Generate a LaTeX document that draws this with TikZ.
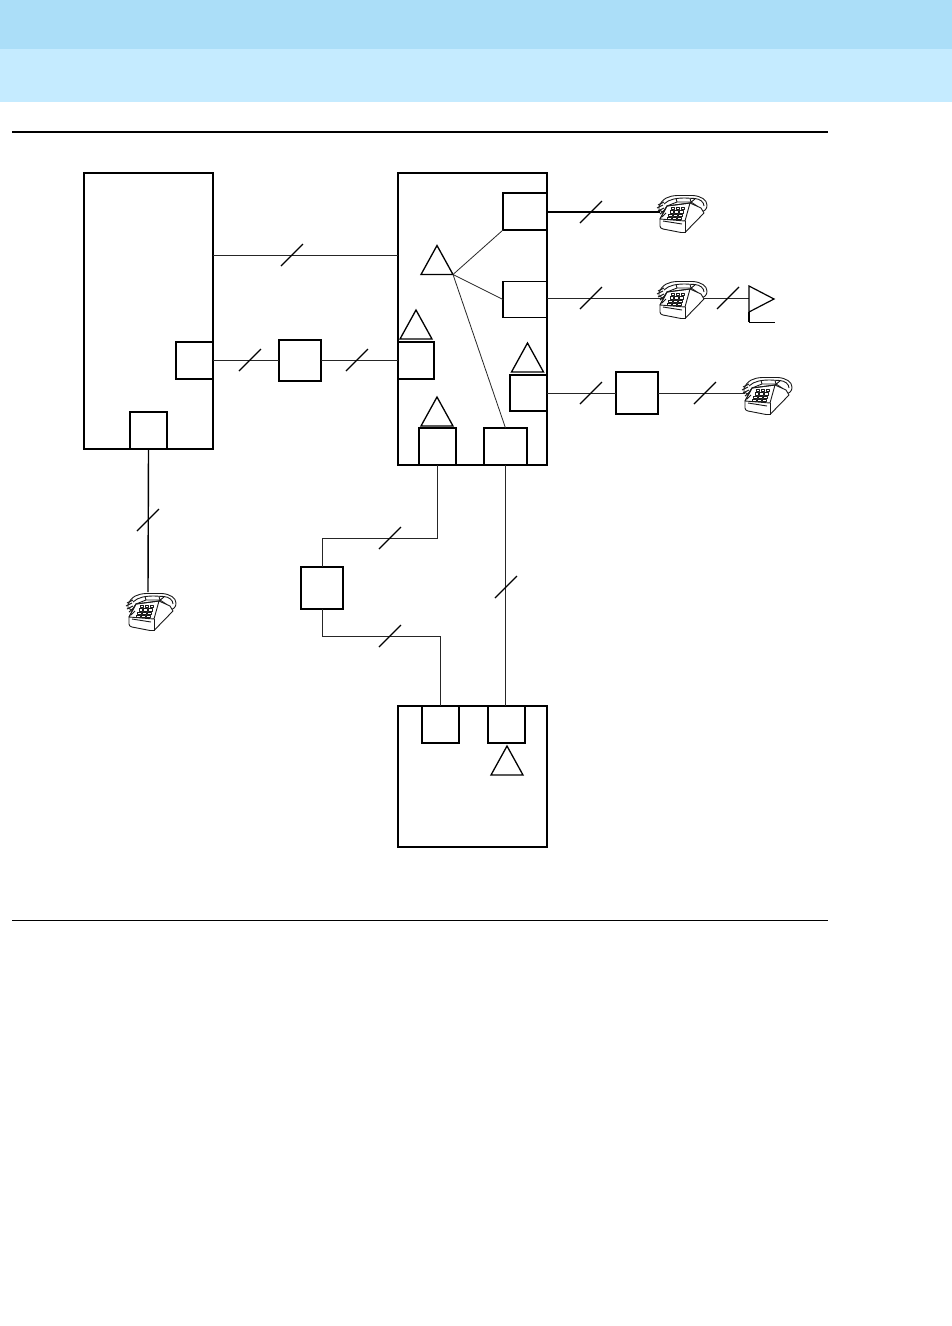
\documentclass[tikz,border=0pt]{standalone}
\usetikzlibrary{shapes.geometric}
\definecolor{bandtop}{RGB}{171,222,248}
\definecolor{bandlow}{RGB}{197,235,255}
\tikzset{
  x=1pt,y=-1pt,
  outerbox/.style={draw=black,line width=2pt,fill=white},
  unitbox/.style={draw=black,line width=1.3pt,fill=white,rectangle,inner sep=0pt,outer sep=0pt},
  wire/.style={draw=black!85,line width=1pt},
  heavywire/.style={draw=black,line width=1.7pt},
  tri/.style={draw=black,line width=1.3pt,isosceles triangle,isosceles triangle stretches,shape border rotate=90,
    minimum width=32pt,minimum height=29pt,inner sep=0pt,outer sep=0pt,anchor=lower side},
  slashmark/.pic={\draw[line width=1.1pt,black] (-11,11) -- (11,-11);},
  telephone/.pic={
    \begin{scope}[line width=.9pt,draw=black!90,fill=white,line join=round]
      % handset
      \filldraw (2,12) .. controls (5,3) and (12,1) .. (20,0.5) -- (36,0.5) .. controls (44,1) and (50,5) .. (50,10)
        .. controls (50,14) and (48,16) .. (44,17) -- (40,11) -- (34,7) -- (20,7) -- (10,11) -- (6,17) -- (2,15) -- cycle;
      \draw (7,9) .. controls (12,4) and (20,3) .. (28,3) -- (38,3.5) .. controls (43,4) and (47,7) .. (47,11);
      % base
      \filldraw (3,24) -- (3,31) .. controls (3,33) and (4,33) .. (6,34) -- (24,37.5) -- (28,37.5) -- (47,18) -- (44,13) -- (33,8) -- (10,11) -- cycle;
      % top face
      \draw (3,24) -- (10,11) -- (33,8) -- (28,26) -- cycle;
      \draw (28,26) -- (28,37.5);
      \draw (33,8) -- (38,4) (20,7) -- (19,3.5) (34,7) -- (33,3.5);
      \draw (6,26) -- (25,29);
      % keypad
      \foreach \r in {0,1,2,3}{\foreach \c in {0,1,2}{
        \filldraw[line width=.6pt] ({14+\c*4.9-\r*1.2},{12.5+\r*3.2}) rectangle ++(3.6,2.2);}}
      % cord
      \draw[line width=1pt] (1,10) -- (7,7) (0,13) -- (6,10) (1,16) -- (7,13) (3,19) -- (8,15) (5,22) -- (9,18);
    \end{scope}
  }
}
\begin{document}
\begin{tikzpicture}
\useasboundingbox (0,0) rectangle (952,1326);
\fill[bandtop] (0,0) rectangle (952,49);
\fill[bandlow] (0,49) rectangle (952,102);
\draw[line width=2pt] (12,132) -- (828,132);
\draw[line width=1pt] (12,920) -- (828,920);

% outer boxes
\path[outerbox] (84,173) rectangle (213,449);
\path[outerbox] (398,173) rectangle (547,465);
\path[outerbox] (398,706) rectangle (547,847);
\coordinate (ltop) at (213,255);
\coordinate (mtop) at (398,255);

% unit boxes
\node[unitbox,minimum width=44pt,minimum height=37pt] (b1) at (525,211.5) {};
\node[unitbox,minimum width=44pt,minimum height=36pt] (b2) at (525,299.5) {};
\node[unitbox,minimum width=36pt,minimum height=37pt] (b3) at (416,360.5) {};
\node[unitbox,minimum width=37pt,minimum height=36pt] (b4) at (528.5,393) {};
\node[unitbox,minimum width=37pt,minimum height=37pt] (b5) at (437.5,446.5) {};
\node[unitbox,minimum width=43pt,minimum height=37pt] (b6) at (505.5,446.5) {};
\node[unitbox,minimum width=37pt,minimum height=37pt] (l1) at (194.5,360.5) {};
\node[unitbox,minimum width=37pt,minimum height=37pt] (l2) at (148.5,430.5) {};
\node[unitbox,minimum width=42pt,minimum height=41pt] (m1) at (300,360.5) {};
\node[unitbox,minimum width=42pt,minimum height=42pt] (m2) at (637,393) {};
\node[unitbox,minimum width=42pt,minimum height=42pt] (m3) at (322,588) {};
\node[unitbox,minimum width=37pt,minimum height=37pt] (c1) at (440.5,724.5) {};
\node[unitbox,minimum width=37pt,minimum height=37pt] (c2) at (506.5,724.5) {};

% triangles
\node[tri] (t0) at (437,274.5) {};
\node[tri] (t1) at (416,339) {};
\node[tri] (t2) at (527.5,372) {};
\node[tri] (t3) at (437,426) {};
\node[tri] (t4) at (507,775) {};

% internal lines
\draw[line width=.8pt,draw=black!85] (t0.right corner) -- (b1.south west);
\draw[line width=.8pt,draw=black!85] (t0.right corner) -- (b2.west);
\draw[line width=.8pt,draw=black!85] (t0.right corner) -- (b6.north);

% free ends
\coordinate (p1) at (660,212);
\coordinate (p2) at (660,298);
\coordinate (p3) at (745,393);
\coordinate (p4) at (148,592);
\coordinate (ant) at (749,298);

% wires
\draw[wire] (ltop) -- (mtop);
\draw[wire] (l1.east) -- (m1.west);
\draw[wire] (m1.east) -- (b3.west);
\draw[heavywire] (b1.east |- p1) -- (p1);
\draw[wire] (b2.east |- p2) -- (ant);
\draw[wire] (b4.east) -- (m2.west);
\draw[wire] (m2.east) -- (p3);
\draw[line width=1.4pt,black] (l2.south) -- (p4);
\draw[wire] (b5.south) |- (m3.north |- 0,538) -- (m3.north);
\draw[wire] (m3.south) |- (c1.north |- 0,636) -- (c1.north);
\draw[wire] (b6.south) -- (b6.south |- c2.north);

% antenna-like symbol
\draw[line width=1.2pt] (749,286) -- (774,299) -- (749,312) -- cycle;
\draw[line width=1.2pt] (749,312) -- (749,322);
\draw[line width=1pt] (749,322) -- (775,322);

% slashes
\foreach \p in {(292,255),(250,360),(357,360),(591,212),(591,298),(728,298),(591,393),(705,393),(148,520),(390,538),(390,636),(506,587)}
  \path \p pic {slashmark};

% phones
\path (657,195) pic {telephone};
\path (657,281) pic {telephone};
\path (742,377) pic {telephone};
\path (126,593) pic {telephone};
\end{tikzpicture}
\end{document}
